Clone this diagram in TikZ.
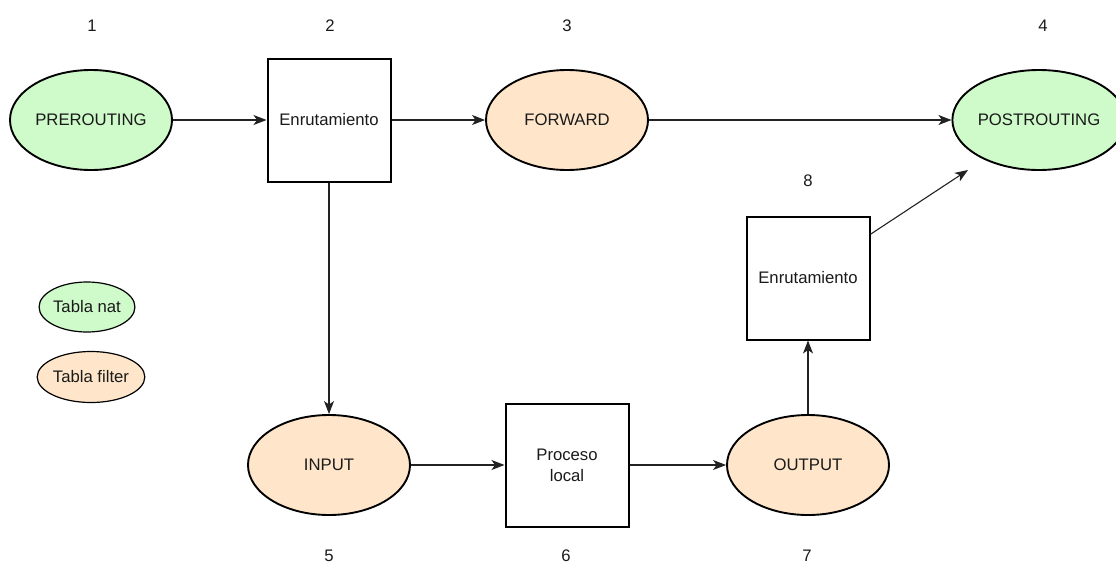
\documentclass[tikz,border=0pt]{standalone}
\usepackage{fontspec}
\setmainfont{Liberation Sans}
\usetikzlibrary{shapes.geometric,arrows.meta}
\definecolor{natgreen}{HTML}{CFFACA}
\definecolor{filterpeach}{HTML}{FFE6CA}
\definecolor{ink}{HTML}{1A1A1A}
\definecolor{wire}{HTML}{222222}
\tikzset{
  txt/.style={font=\fontsize{16.7}{20}\selectfont, text=ink},
  chain/.style={ellipse, draw=black, line width=1.9pt, minimum width=162pt,
                minimum height=100pt, inner sep=0pt, txt},
  natchain/.style={chain, fill=natgreen},
  filterchain/.style={chain, fill=filterpeach},
  stagebox/.style={rectangle, draw=black, line width=2pt, minimum width=123pt,
                   minimum height=123pt, inner sep=0pt, fill=white, txt, align=center},
  legendnat/.style={ellipse, draw=black, line width=1.2pt, fill=natgreen,
                    minimum width=80pt, minimum height=50pt, inner sep=0pt, txt},
  legendfilter/.style={ellipse, draw=black, line width=1.2pt, fill=filterpeach,
                    minimum width=86pt, minimum height=51pt, inner sep=0pt, txt},
  num/.style={txt, inner sep=0pt},
  flow/.style={draw=wire, line width=1.1pt,
               -{Stealth[length=13pt, width=10pt, inset=3.5pt]}},
}
\begin{document}
\begin{tikzpicture}[x=1pt, y=-1pt]
  \useasboundingbox (0,0) rectangle (1116,565);

  % chains and routing stages
  \node[natchain]    (pre)   at (91,120)   {PREROUTING};
  \node[stagebox]    (r2)    at (329,120)  {Enrutamiento};
  \node[filterchain] (fwd)   at (567,120)  {FORWARD};
  \node[natchain, minimum width=156pt] (post) at (1039,120) {POSTROUTING};
  \node[stagebox]    (r8)    at (808,278)  {Enrutamiento};
  \node[filterchain] (inp)   at (329,465)  {INPUT};
  \node[stagebox]    (local) at (567,465)  {Proceso\\[1pt]local};
  \node[filterchain] (out)   at (808,465)  {OUTPUT};

  % legend
  \node[legendnat]    (lnat)    at (87,307)  {Tabla nat};
  \node[legendfilter] (lfilter) at (91,377)  {Tabla filter};

  % step numbers
  \node[num] (n1) at (92,26)   {1};
  \node[num] (n2) at (330,26)  {2};
  \node[num] (n3) at (567,26)  {3};
  \node[num] (n4) at (1043,26) {4};
  \node[num] (n8) at (808,181) {8};
  \node[num] (n5) at (329,556) {5};
  \node[num] (n6) at (566,556) {6};
  \node[num] (n7) at (807,556) {7};

  % packet flow
  \coordinate (postin) at (968,170);
  \draw[flow] (pre) -- (r2);
  \draw[flow] (r2) -- (fwd);
  \draw[flow] (fwd) -- (post);
  \draw[flow] (r2) -- (inp);
  \draw[flow] (inp) -- (local);
  \draw[flow] (local) -- (out);
  \draw[flow] (out) -- (r8);
  \draw[flow] (r8.35) -- (postin);
\end{tikzpicture}
\end{document}
